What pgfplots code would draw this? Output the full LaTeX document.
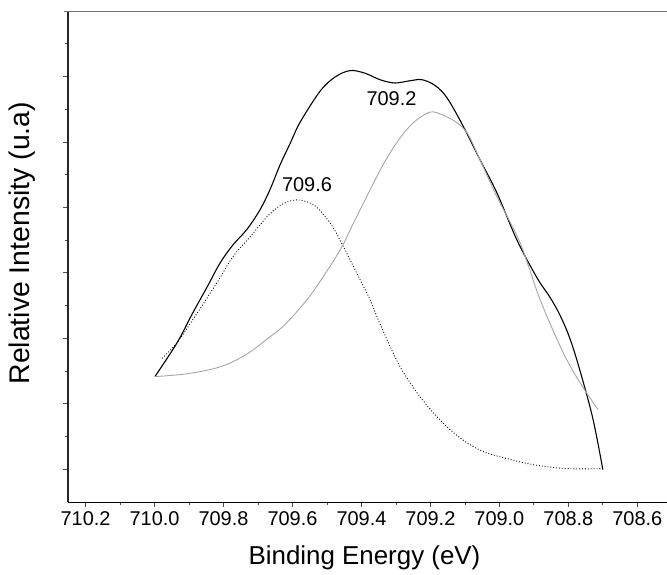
\documentclass[border=0pt]{standalone}
\usepackage{fontspec}
\setmainfont{Liberation Sans}
\usepackage{pgfplots}
\pgfplotsset{compat=1.18}
\begin{document}
\begin{tikzpicture}
\begin{axis}[
  scale only axis,
  width=599bp, height=491bp,
  x dir=reverse,
  xmin=708.514, xmax=710.251,
  ymin=0, ymax=15,
  axis x line*=bottom,
  axis y line*=left,
  x axis line style={black, line width=0.9pt},
  y axis line style={black!85, line width=1.1pt},
  xtick={708.6,708.8,709.0,709.2,709.4,709.6,709.8,710.0,710.2},
  xticklabels={708.6,708.8,709.0,709.2,709.4,709.6,709.8,710.0,710.2},
  minor xtick={708.7,708.9,709.1,709.3,709.5,709.7,709.9,710.1},
  ytick={1,3,...,13},
  minor ytick={2,4,...,14},
  yticklabels={},
  tick align=outside,
  major tick length=5bp,
  minor tick length=2.5bp,
  every tick/.style={black!70, line width=0.8pt},
  xticklabel style={font=\fontsize{20}{24}\selectfont, yshift=-1.5bp},
  xlabel={Binding Energy (eV)},
  ylabel={Relative Intensity (u.a)},
  xlabel style={font=\fontsize{26}{30}\selectfont, at={(axis description cs:0.495,0)}, anchor=center, yshift=-56bp},
  ylabel style={font=\fontsize{28.5}{32}\selectfont, at={(axis description cs:0,0.527)}, anchor=center, yshift=46bp},
  clip=false,
]
\coordinate (SW) at (rel axis cs:0,0);
\coordinate (NE) at (rel axis cs:1,1);
\draw[black!55, line width=0.9pt] ([xshift=-4bp]rel axis cs:0,1) -- (rel axis cs:1,1);
% envelope
\addplot[black, line width=1.1pt, smooth, tension=0.55] coordinates {
(709.999,3.83) (709.935,4.86) (709.889,5.78) (709.848,6.56) (709.810,7.30)
(709.773,7.85) (709.732,8.33) (709.694,8.93) (709.665,9.55) (709.636,10.30)
(709.607,10.95) (709.578,11.60) (709.520,12.55) (709.477,12.98) (709.433,13.18)
(709.390,13.10) (709.346,12.90) (709.303,12.80) (709.259,12.87) (709.224,12.90)
(709.186,12.72) (709.152,12.35) (709.106,11.50) (709.056,10.45) (709.007,9.44)
(708.949,8.00) (708.891,6.85) (708.853,6.25) (708.824,5.70) (708.795,4.98)
(708.766,4.00) (708.729,2.55) (708.700,0.99)
};
% 709.6 component
\addplot[black, line width=0.9pt, dotted, smooth, tension=0.5] coordinates {
(709.978,4.39) (709.936,4.85) (709.889,5.57) (709.819,6.70) (709.773,7.49)
(709.723,8.10) (709.674,8.71) (709.640,9.03) (709.612,9.18) (709.587,9.23)
(709.560,9.18) (709.529,9.00)
(709.483,8.40) (709.433,7.40) (709.404,6.79) (709.375,6.18) (709.355,5.66)
(709.326,4.96) (709.288,4.13) (709.239,3.34) (709.192,2.73) (709.143,2.21)
(709.094,1.81) (709.047,1.54) (708.998,1.38) (708.902,1.14) (708.804,1.02)
(708.70,1.02)
};
% 709.2 component
\addplot[black!35, line width=0.9pt, smooth, tension=0.5] coordinates {
(709.999,3.83) (709.918,3.90) (709.860,4.00) (709.819,4.10) (709.780,4.25)
(709.743,4.45) (709.710,4.68) (709.674,4.98) (709.640,5.25) (709.607,5.58)
(709.549,6.30) (709.491,7.20) (709.454,7.85) (709.424,8.50) (709.367,9.70)
(709.340,10.25) (709.314,10.72) (709.288,11.12) (709.260,11.48) (709.230,11.75)
(709.193,11.92) (709.135,11.67)
(709.094,11.28) (709.056,10.45) (709.007,9.32) (708.940,7.92) (708.882,6.18)
(708.815,4.56) (708.766,3.64) (708.714,2.82)
};
\node[font=\fontsize{20}{24}\selectfont] at (axis cs:709.558,9.70) {709.6};
\node[font=\fontsize{20}{24}\selectfont] at (axis cs:709.313,12.31) {709.2};
\end{axis}
\pgfresetboundingbox
\path[use as bounding box] ([xshift=-68bp,yshift=-73bp]SW) rectangle ([yshift=11bp]NE);
\end{tikzpicture}
\end{document}
